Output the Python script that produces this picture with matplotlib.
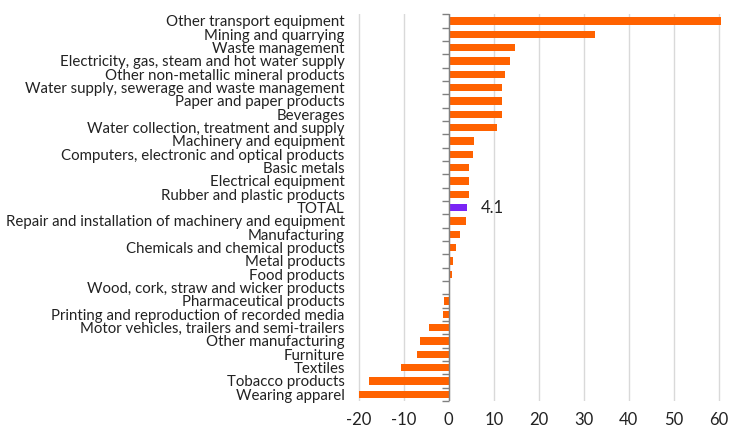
import matplotlib.pyplot as plt
import numpy as np

# categories and values (% change), top to bottom
categories = [
    "Other transport equipment", "Mining and quarrying", "Waste management",
    "Electricity, gas, steam and hot water supply", "Other non-metallic mineral products",
    "Water supply, sewerage and waste management", "Paper and paper products", "Beverages",
    "Water collection, treatment and supply", "Machinery and equipment",
    "Computers, electronic and optical products", "Basic metals", "Electrical equipment",
    "Rubber and plastic products", "TOTAL",
    "Repair and installation of machinery and equipment", "Manufacturing",
    "Chemicals and chemical products", "Metal products", "Food products",
    "Wood, cork, straw and wicker products", "Pharmaceutical products",
    "Printing and reproduction of recorded media", "Motor vehicles, trailers and semi-trailers",
    "Other manufacturing", "Furniture", "Textiles", "Tobacco products", "Wearing apparel",
]
values = [60.5, 32.6, 14.8, 13.7, 12.4, 11.9, 11.9, 11.9, 10.8, 5.7,
          5.3, 4.6, 4.6, 4.4, 4.1, 3.9, 2.6, 1.7, 1.0, 0.8,
          0.3, -1.0, -1.2, -4.3, -6.3, -7.0, -10.7, -17.8, -20.0]
xticks = [-20, -10, 0, 10, 20, 30, 40, 50, 60]

plt.rcParams['font.family'] = ['Lato', 'DejaVu Sans']
plt.rcParams['axes.unicode_minus'] = False

orange = "#FF6200"
purple = "#7A24F5"
colors = [purple if c == "TOTAL" else orange for c in categories]

fig = plt.figure(figsize=(7.45, 4.43), dpi=100)
ax = fig.add_axes([0.4805, 0.095, 0.49, 0.873])

y = np.arange(len(categories))
ax.barh(y, values, height=0.55, color=colors, zorder=3)

# label for the TOTAL bar
i = categories.index("TOTAL")
ax.text(values[i] + 3, y[i], f"{values[i]:.1f}", va="center", ha="left",
        fontsize=12, color="#222222")

ax.set_ylim(len(categories) - 0.5, -0.5)
ax.set_xlim(-20.2, 61)
ax.set_xticks(xticks)
ax.set_yticks(y)
ax.set_yticklabels(categories, fontsize=10.8, color="#222222")
ax.tick_params(axis="y", length=0, pad=9.5)
ax.tick_params(axis="x", length=0, labelsize=12, labelcolor="#222222", pad=8)
ax.grid(axis="x", color="#d9d9d9", linewidth=1, zorder=0)
for s in ax.spines.values():
    s.set_visible(False)

# zero axis line with category boundary ticks
ax.axvline(0, color="#808080", linewidth=1, zorder=4)
bounds = np.arange(len(categories) + 1) - 0.5
ax.plot(np.zeros_like(bounds), bounds, ls="none", marker=0, markersize=5,
        markeredgecolor="#808080", markeredgewidth=1, zorder=4, clip_on=False)

fig.savefig("out.png", dpi=100)
